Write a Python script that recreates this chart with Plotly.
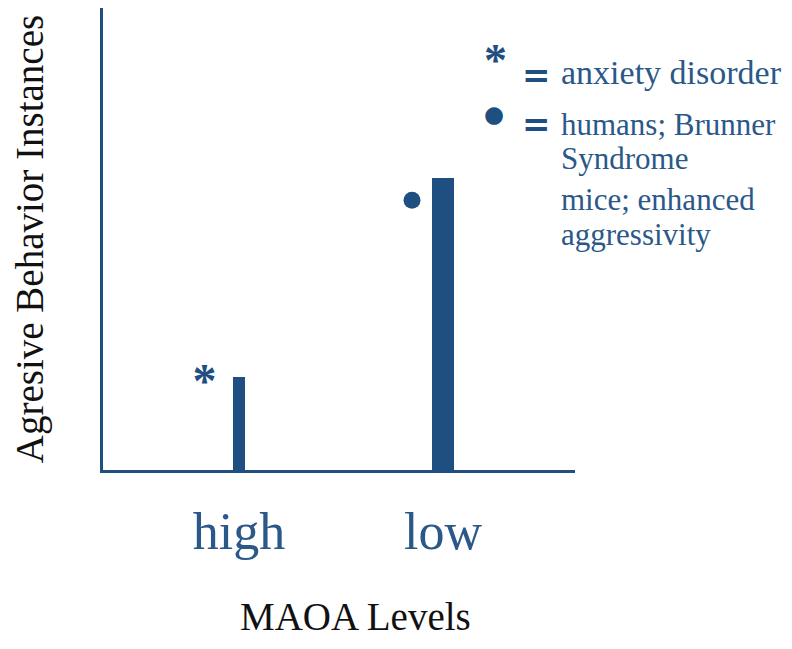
import plotly.graph_objects as go

# ---- data ----
categories = ["high", "low"]
values = [20.1, 63.2]                  # Agresive Behavior Instances (arbitrary units)
asterisk_y = [18.4]                    # "*" beside the high bar
dot_y = [58.4]                         # "●" beside the low bar
legend_symbols = ["*", "●"]
legend_lines = [["anxiety disorder"], ["humans; Brunner", "Syndrome"]]
extra_lines = ["mice; enhanced", "aggressivity"]
x_title = "MAOA Levels"
y_title = "Agresive Behavior Instances"

BLUE = "#1f4e80"
TXT_BLUE = "#2a5888"
FONT = "Liberation Serif, Times New Roman, serif"

# page body has an 8px margin: lay the figure out in screen pixels minus 8,
# and keep it small enough that the page does not scroll
OFF = 8
W, H = 792 - 2 * OFF, 649 - 2 * OFF
L, T = 95, 0
PW, PH = 472, 462
R, B = W - L - PW, H - T - PH
def px(sx): return (sx - OFF - L) / PW
def py(sy): return (H - B - (sy - OFF)) / PH

xs = list(range(len(categories)))

fig = go.Figure()
fig.add_trace(go.Bar(
    x=xs, y=values, width=[0.06, 0.11],
    marker=dict(color=BLUE, line=dict(width=0)),
    hoverinfo="skip", showlegend=False))

fig.add_trace(go.Scatter(
    x=[xs[0] - 0.17], y=asterisk_y, mode="text",
    text=["<b>*</b>"], textposition="middle center",
    textfont=dict(family=FONT, size=48, color=BLUE),
    hoverinfo="skip", showlegend=False))

fig.add_trace(go.Scatter(
    x=[xs[1] - 0.152], y=dot_y, mode="markers",
    marker=dict(symbol="circle", size=17, color=BLUE, line=dict(width=0)),
    hoverinfo="skip", showlegend=False))

fig.update_layout(
    width=W, height=H,
    margin=dict(l=L, r=R, t=T, b=B, autoexpand=False),
    plot_bgcolor="white", paper_bgcolor="white",
    bargap=0,
    xaxis=dict(
        range=[-0.667, 1.647], tickvals=xs, ticktext=categories,
        showgrid=False, zeroline=False, showline=True,
        linecolor=BLUE, linewidth=3, ticks="",
        ticklabelstandoff=14,
        tickfont=dict(family=FONT, size=52, color=TXT_BLUE),
        fixedrange=True),
    yaxis=dict(
        range=[0, 100], showticklabels=False, showgrid=False,
        zeroline=False, showline=True, linecolor=BLUE, linewidth=3,
        ticks="",
        title=dict(text=y_title, standoff=55,
                   font=dict(family=FONT, size=39, color="#111111")),
        fixedrange=True),
)

anns = [dict(x=px(355), y=py(OFF + H - 1), text=x_title, yanchor="bottom",
             font=dict(family=FONT, size=39, color="#111111"))]
sym_anchor_y = [61, 114]
eq_y = [75, 124]
line_y = [[73, None], [124, 158]]
for i, s in enumerate(legend_symbols):
    if s == "*":
        anns.append(dict(x=px(495), y=py(sym_anchor_y[i]), text="<b>*</b>",
                         font=dict(family=FONT, size=46, color=BLUE)))
    else:
        anns.append(dict(x=px(494), y=py(sym_anchor_y[i]), text=s,
                         font=dict(family="DejaVu Sans", size=23, color=BLUE)))
    anns.append(dict(x=px(536), y=py(eq_y[i]), text="<b>=</b>",
                     font=dict(family="DejaVu Sans", size=34, color=BLUE)))
    for j, ln in enumerate(legend_lines[i]):
        anns.append(dict(x=px(559), y=py(line_y[i][j]), text=ln, xanchor="left",
                         font=dict(family=FONT, size=34 if i == 0 else 31, color=TXT_BLUE)))
for j, ln in enumerate(extra_lines):
    anns.append(dict(x=px(559), y=py([199, 235][j]), text=ln, xanchor="left",
                     font=dict(family=FONT, size=31, color=TXT_BLUE)))
for a in anns:
    a.update(xref="paper", yref="paper", showarrow=False)
    a.setdefault("yanchor", "middle")
    a.setdefault("xanchor", "center")
fig.update_layout(annotations=anns)

fig.write_html("out.html")
